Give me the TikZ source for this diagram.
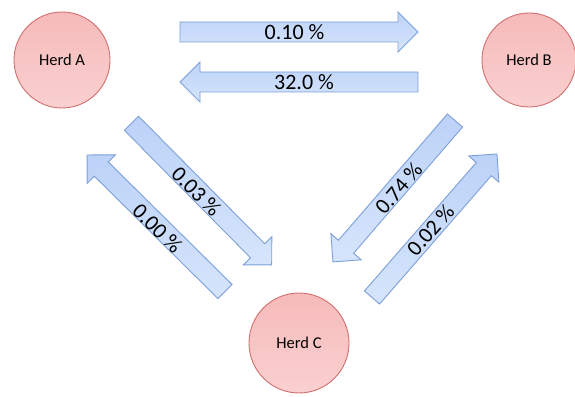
\documentclass[tikz,border=0pt]{standalone}
\usepackage{fontspec}
\setmainfont{Carlito}
\usetikzlibrary{calc}
\definecolor{herdtop}{HTML}{F6BABA}
\definecolor{herdbot}{HTML}{FAD0D0}
\definecolor{herdline}{HTML}{D27070}
\definecolor{arrtop}{HTML}{BCD2F7}
\definecolor{arrbot}{HTML}{D6E5FC}
\definecolor{arrline}{HTML}{7C9FD8}
\tikzset{
  herd/.style={circle, draw=herdline, line width=0.9pt, top color=herdtop, bottom color=herdbot,
    inner sep=0pt, font=\fontsize{16.5}{18}\selectfont},
  blockarr/.style={draw=arrline, line width=0.9pt, top color=arrtop, bottom color=arrbot, line join=miter},
  pct/.style={inner sep=0pt, font=\fontsize{22}{24}\selectfont}
}
% #1 name, #2 tail coordinate, #3 angle, #4 length
\newcommand\blockarrow[4]{%
  \begin{scope}[shift={#2}, rotate=#3]
    \draw[blockarr] (0,-10) -- ({#4-20},-10) -- ({#4-20},-20) -- (#4,0) -- ({#4-20},20)
      -- ({#4-20},10) -- (0,10) -- cycle;
    \coordinate (#1) at ({#4/2},0);
  \end{scope}}
\begin{document}
\begin{tikzpicture}[x=1pt,y=1pt]
\useasboundingbox (0,0) rectangle (575,396);
% herds
\node[herd, minimum size=96pt] (A) at (62,336) {Herd A};
\node[herd, minimum size=94pt] (B) at (529,336) {Herd B};
\node[herd, minimum size=100pt] (C) at (299,53) {Herd C};
% block arrows
\blockarrow{ab}{(180,364)}{0}{238}
\blockarrow{ba}{(418,314)}{180}{238}
\blockarrow{ac}{(131.5,272.7)}{-45.3}{199.3}
\blockarrow{ca}{(225,104.5)}{135.3}{194.1}
\blockarrow{bc}{(455,275.5)}{229.2}{186.8}
\blockarrow{cb}{(372,98.5)}{48.95}{190.3}
% labels
\node[pct] (lab) at (294.5,364) {0.10 \%};
\node[pct] (lba) at (304,314) {32.0 \%};
\node[pct, rotate=-45.3] (lac) at (196.5,204.5) {0.03 \%};
\node[pct, rotate=-44.7] (lca) at (157.5,167.5) {0.00 \%};
\node[pct, rotate=49.2] (lbc) at (398.5,207.5) {0.74 \%};
\node[pct, rotate=48.95] (lcb) at (430.5,166) {0.02 \%};
\end{tikzpicture}
\end{document}
